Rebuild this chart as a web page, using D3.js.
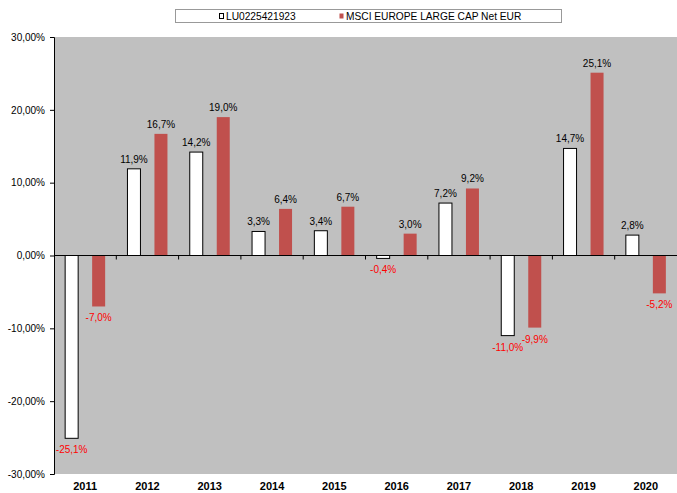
<!DOCTYPE html>
<html>
<head>
<meta charset="utf-8">
<script src="https://cdn.jsdelivr.net/npm/d3@7"></script>
<style>
  body { margin: 0; background: #fff; }
  text { font-family: "Liberation Sans", Arial, sans-serif; }
</style>
</head>
<body>
<div id="chart"></div>
<script>
const years = ['2011', '2012', '2013', '2014', '2015', '2016', '2017', '2018', '2019', '2020']
const fund = [-25.1, 11.9, 14.2, 3.3, 3.4, -0.4, 7.2, -11.0, 14.7, 2.8]
const index = [-7.0, 16.7, 19.0, 6.4, 6.7, 3.0, 9.2, -9.9, 25.1, -5.2]
const yTicks = [-30, -20, -10, 0, 10, 20, 30]
const seriesNames = ['LU0225421923', 'MSCI EUROPE LARGE CAP Net EUR']

const width = 677
const height = 493
const margin = { top: 37, right: 0, bottom: 19, left: 54 }

// excel style numbers: comma decimal, plain hyphen for minus
const fmt = v => d3.format('.1f')(v).replace('.', ',').replace('−', '-') + '%'
const fmtAxis = v => d3.format('.2f')(v).replace('.', ',').replace('−', '-') + '%'

const svg = d3.create('svg')
    .attr('width', width)
    .attr('height', height)

const x = d3.scaleBand()
    .domain(years)
    .range([margin.left, width - margin.right])

const y = d3.scaleLinear()
    .domain([-30, 30])
    .range([height - margin.bottom, margin.top])

// plot background
svg.append('rect')
    .attr('x', margin.left)
    .attr('y', margin.top)
    .attr('width', width - margin.right - margin.left)
    .attr('height', y(-30) - y(30))
    .attr('fill', '#c0c0c0')

const bw = 13
const gap = 14
const offset = (x.bandwidth() - 2 * bw - gap) / 2

const series = [
    { values: fund, fill: '#ffffff', stroke: '#000000', dx: offset },
    { values: index, fill: '#c0504d', stroke: 'none', dx: offset + bw + gap }
]

series.forEach(s => {
    const g = svg.append('g')
    g.selectAll('rect')
        .data(s.values)
        .join('rect')
        .attr('x', (d, i) => x(years[i]) + s.dx)
        .attr('y', d => y(Math.max(0, d)))
        .attr('width', bw)
        .attr('height', d => Math.abs(y(d) - y(0)))
        .attr('fill', s.fill)
        .attr('stroke', s.stroke)
        .attr('stroke-width', 1)

    g.selectAll('text')
        .data(s.values)
        .join('text')
        .attr('x', (d, i) => x(years[i]) + s.dx + bw / 2)
        .attr('y', d => d >= 0 ? y(d) - 6 : y(d) + 15)
        .attr('text-anchor', 'middle')
        .attr('font-size', 10)
        .attr('fill', d => d >= 0 ? '#000' : '#ff0000')
        .text(d => fmt(d))
})

// zero line with category ticks
svg.append('line')
    .attr('x1', margin.left).attr('x2', width - margin.right)
    .attr('y1', y(0)).attr('y2', y(0))
    .attr('stroke', '#000')
svg.append('g')
    .selectAll('line')
    .data(years.slice(1))
    .join('line')
    .attr('x1', d => x(d)).attr('x2', d => x(d))
    .attr('y1', y(0)).attr('y2', y(0) + 4)
    .attr('stroke', '#000')

// y axis
const yAxis = svg.append('g')
    .attr('transform', `translate(${margin.left},0)`)
    .call(d3.axisLeft(y).tickValues(yTicks).tickFormat(fmtAxis).tickSize(4).tickPadding(5))
yAxis.select('.domain').attr('stroke', '#000')
yAxis.selectAll('text')
    .attr('font-size', 10)
    .attr('font-family', '"Liberation Sans", Arial, sans-serif')
    .attr('fill', '#000')

// year labels
svg.append('g')
    .selectAll('text')
    .data(years)
    .join('text')
    .attr('x', d => x(d) + x.bandwidth() / 2)
    .attr('y', height - 3)
    .attr('text-anchor', 'middle')
    .attr('font-size', 11)
    .attr('font-weight', 'bold')
    .text(d => d)

// legend
const legend = svg.append('g')
legend.append('rect')
    .attr('x', 175.5).attr('y', 9.5)
    .attr('width', 386).attr('height', 13)
    .attr('fill', '#fff')
    .attr('stroke', '#999')
const legendItems = [
    { name: seriesNames[0], x: 219, fill: '#fff', stroke: '#000' },
    { name: seriesNames[1], x: 339, fill: '#c0504d', stroke: 'none' }
]
legendItems.forEach(item => {
    legend.append('rect')
        .attr('x', item.x + 0.5).attr('y', 13.5)
        .attr('width', 4).attr('height', 5)
        .attr('fill', item.fill)
        .attr('stroke', item.stroke)
    legend.append('text')
        .attr('x', item.x + 7)
        .attr('y', 19.5)
        .attr('font-size', 10.2)
        .text(item.name)
})

document.getElementById('chart').appendChild(svg.node())
</script>
</body>
</html>
